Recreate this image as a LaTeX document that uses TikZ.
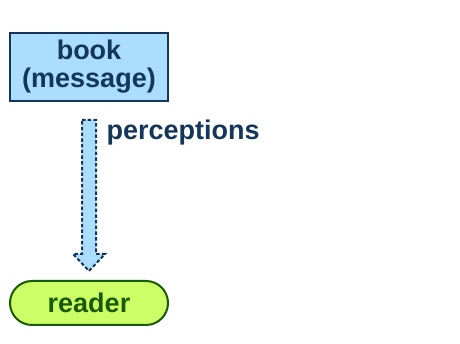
\documentclass[tikz,border=0pt]{standalone}
\usepackage{fontspec}
\setmainfont{Liberation Sans}
\usetikzlibrary{calc}
\definecolor{boxfill}{HTML}{AADDFF}
\definecolor{navy}{HTML}{133659}
\definecolor{limefill}{HTML}{CCFF66}
\definecolor{dgreen}{HTML}{195A00}
\tikzset{
  txt/.style={font=\fontsize{27}{28}\selectfont\bfseries},
  bookbox/.style={txt, draw=navy, fill=boxfill, line width=2pt, text=navy,
    minimum width=158pt, minimum height=68pt, inner sep=0pt, align=center},
  readerbox/.style={txt, draw=dgreen, fill=limefill, line width=2pt, text=dgreen,
    minimum width=158pt, minimum height=44pt, inner sep=0pt, rounded corners=22pt},
  flowarrow/.style={draw=navy, fill=boxfill, line width=2pt, dash pattern=on 3.5pt off 2.2pt, line join=miter},
  lbl/.style={txt, text=navy, anchor=base west}
}
\begin{document}
\begin{tikzpicture}[x=1pt,y=1pt]
\useasboundingbox (0,0) rectangle (460,344);
\node[bookbox] (book) at (89,277) {book\\(message)};
\node[readerbox] (reader) at (89,41) {reader};
\coordinate (top) at ($(book.south)+(0,-18)$);
\coordinate (tip) at ($(reader.north)+(0,9)$);
\draw[flowarrow] ($(top)+(-7,0)$) -- ($(top)+(7,0)$) -- ($(tip)+(7,17)$) -- ($(tip)+(16,17)$) -- (tip) -- ($(tip)+(-16,17)$) -- ($(tip)+(-7,17)$) -- cycle;
\node[lbl] (perc) at (103,204) {perceptions};
\end{tikzpicture}
\end{document}
